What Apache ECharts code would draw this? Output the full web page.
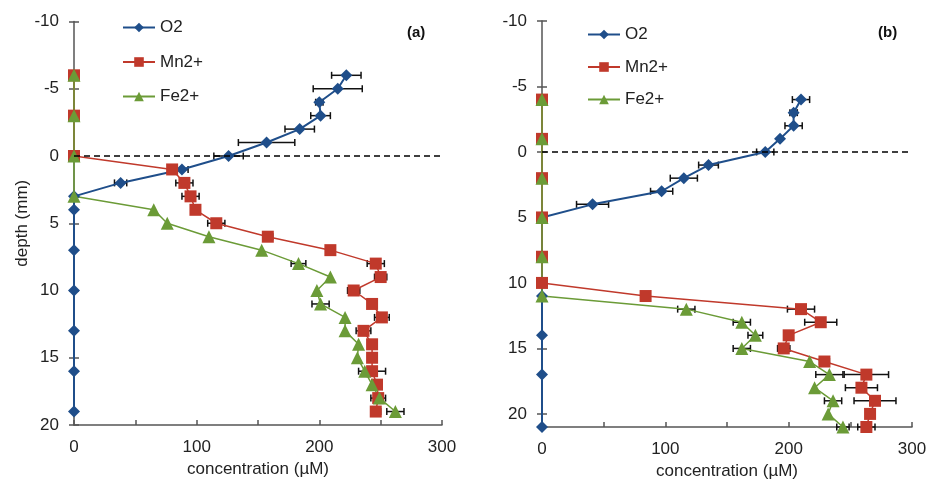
<!DOCTYPE html>
<html>
<head>
<meta charset="utf-8">
<title>depth profiles</title>
<script src="https://cdn.jsdelivr.net/npm/echarts@6/dist/echarts.min.js"></script>
<style>
  html, body { margin: 0; padding: 0; background: #fff; }
  #main { width: 931px; height: 489px; }
</style>
</head>
<body>
<div id="main"></div>
<script>
// ---- panel (a) ----
var depthO2A = [-6, -5, -4, -3, -2, -1, 0, 1, 2, 3, 4, 7, 10, 13, 16, 19];
var o2A      = [222, 215, 200, 201, 184, 157, 126, 88, 38, 0, 0, 0, 0, 0, 0, 0];
var errO2A   = [12, 20, 3, 8, 12, 23, 12, 5, 5, 0, 0, 0, 0, 0, 0, 0];

var depthMnA = [-6, -3, 0, 1, 2, 3, 4, 5, 6, 7, 8, 9, 10, 11, 12, 13, 14, 15, 16, 17, 18, 19];
var mnA      = [0, 0, 0, 80, 90, 95, 99, 116, 158, 209, 246, 250, 228, 243, 251, 236, 243, 243, 243, 247, 248, 246];
var errMnA   = [0, 0, 0, 0, 7, 7, 0, 7, 4, 0, 7, 5, 5, 0, 6, 6, 0, 0, 11, 4, 6, 4];

var depthFeA = [-6, -3, 0, 3, 4, 5, 6, 7, 8, 9, 10, 11, 12, 13, 14, 15, 16, 17, 18, 19];
var feA      = [0, 0, 0, 0, 65, 76, 110, 153, 183, 209, 198, 201, 221, 221, 232, 231, 237, 243, 249, 262];
var errFeA   = [0, 0, 0, 0, 0, 0, 0, 0, 6, 0, 0, 7, 0, 0, 0, 0, 0, 0, 0, 7];

// ---- panel (b) ----
var depthO2B = [-4, -3, -2, -1, 0, 1, 2, 3, 4, 5, 8, 11, 14, 17, 21];
var o2B      = [210, 204, 204, 193, 181, 135, 115, 97, 41, 0, 0, 0, 0, 0, 0];
var errO2B   = [7, 3, 7, 0, 7, 8, 11, 9, 13, 0, 0, 0, 0, 0, 0];

var depthMnB = [-4, -1, 2, 5, 8, 10, 11, 12, 13, 14, 15, 16, 17, 18, 19, 20, 21];
var mnB      = [0, 0, 0, 0, 0, 0, 84, 210, 226, 200, 196, 229, 263, 259, 270, 266, 263];
var errMnB   = [0, 0, 0, 0, 0, 0, 3, 11, 13, 0, 5, 4, 18, 13, 17, 0, 7];

var depthFeB = [-4, -1, 2, 5, 8, 11, 12, 13, 14, 15, 16, 17, 18, 19, 20, 21];
var feB      = [0, 0, 0, 0, 0, 0, 117, 162, 173, 162, 217, 233, 221, 236, 232, 244];
var errFeB   = [0, 0, 0, 0, 0, 0, 7, 7, 6, 7, 0, 11, 0, 7, 0, 5];

var xTicks = [0, 100, 200, 300];

var C_O2 = '#1f4e8a', C_MN = '#c0392b', C_FE = '#6b9b37';
var FONT = 'Liberation Sans, Arial, sans-serif';

function pairs(xs, ys) {
  return xs.map(function (x, i) { return [x, ys[i]]; });
}
function triples(xs, ys, es) {
  return xs.map(function (x, i) { return [x, ys[i], es[i]]; });
}

// horizontal error bar with caps
function renderErr(params, api) {
  var x = api.value(0), y = api.value(1), e = api.value(2);
  if (!e) return null;
  var a = api.coord([x - e, y]), b = api.coord([x + e, y]);
  var h = 3.5;
  var st = { stroke: '#111', lineWidth: 1.5 };
  return {
    type: 'group',
    children: [
      { type: 'line', shape: { x1: a[0], y1: a[1], x2: b[0], y2: b[1] }, style: st },
      { type: 'line', shape: { x1: a[0], y1: a[1] - h, x2: a[0], y2: a[1] + h }, style: st },
      { type: 'line', shape: { x1: b[0], y1: b[1] - h, x2: b[0], y2: b[1] + h }, style: st }
    ]
  };
}

function lineSeries(name, color, symbol, size, width, vals, depths, gi, extra) {
  var s = {
    name: name,
    type: 'line',
    xAxisIndex: gi,
    yAxisIndex: gi,
    data: pairs(vals, depths),
    symbol: symbol,
    symbolSize: size,
    showSymbol: true,
    color: color,
    lineStyle: { color: color, width: width },
    itemStyle: { color: color },
    z: 3,
    animation: false
  };
  for (var k in extra) s[k] = extra[k];
  return s;
}

function errSeries(vals, depths, errs, gi) {
  return {
    type: 'custom',
    xAxisIndex: gi,
    yAxisIndex: gi,
    renderItem: renderErr,
    encode: { x: 0, y: 1 },
    data: triples(vals, depths, errs),
    z: 2,
    silent: true,
    animation: false
  };
}

var zeroLine = {
  markLine: {
    silent: true,
    symbol: 'none',
    label: { show: false },
    lineStyle: { color: '#000', type: [6, 4], width: 1.6 },
    data: [{ yAxis: 0 }],
    animation: false
  }
};

function xAxisFor(gi) {
  return {
    gridIndex: gi,
    type: 'value',
    min: 0, max: 300, interval: 50,
    name: 'concentration (\u00b5M)',
    nameLocation: 'middle',
    nameGap: 35,
    nameTextStyle: { fontSize: 17, color: '#222', fontFamily: FONT },
    axisLine: { onZero: false, lineStyle: { color: '#555', width: 1.5 } },
    axisTick: { inside: true, length: 5, lineStyle: { color: '#555', width: 1.5 } },
    axisLabel: {
      fontSize: 17, color: '#222', fontFamily: FONT, margin: 14,
      formatter: function (v) { return xTicks.indexOf(v) >= 0 ? String(v) : ''; }
    },
    splitLine: { show: false }
  };
}

function yAxisFor(gi, max, withName, inner) {
  return {
    gridIndex: gi,
    type: 'value',
    inverse: true,
    position: 'left',
    min: -10, max: max, interval: 5,
    name: withName ? 'depth (mm)' : '',
    nameLocation: 'middle',
    nameGap: 40,
    nameTextStyle: { fontSize: 17, color: '#222', fontFamily: FONT },
    axisLine: { show: !inner, onZero: false, lineStyle: { color: '#555', width: 1.5 } },
    axisTick: { inside: inner, length: 5, lineStyle: { color: '#555', width: 1.5 } },
    axisLabel: {
      show: !inner,
      fontSize: 17, color: '#222', fontFamily: FONT, margin: 15,
      formatter: function (v) { return v % 5 === 0 ? String(v) : ''; }
    },
    splitLine: { show: false }
  };
}

function legendFor(left, top, gap) {
  return {
    orient: 'vertical',
    left: left, top: top,
    itemGap: gap,
    itemWidth: 32, itemHeight: 12,
    textStyle: { fontSize: 17, color: '#222', fontFamily: FONT },
    data: ['O2', 'Mn2+', 'Fe2+'],
    selectedMode: false
  };
}

var chart = echarts.init(document.getElementById('main'));
chart.setOption({
  backgroundColor: '#fff',
  animation: false,
  title: [
    { text: '(a)', left: 402, top: 20, textStyle: { fontSize: 15, fontWeight: 'bold', color: '#111', fontFamily: FONT } },
    { text: '(b)', left: 873, top: 20, textStyle: { fontSize: 15, fontWeight: 'bold', color: '#111', fontFamily: FONT } }
  ],
  legend: [legendFor(117, 14, 17.5), legendFor(582, 21, 15.5)],
  grid: [
    { left: 74, top: 21.5, width: 368, height: 403.5 },
    { left: 542, top: 21, width: 370, height: 406 }
  ],
  xAxis: [xAxisFor(0), xAxisFor(1)],
  yAxis: [
    yAxisFor(0, 20, true, false),
    yAxisFor(1, 21, false, false),
    yAxisFor(0, 20, false, true),
    yAxisFor(1, 21, false, true)
  ],
  series: [
    errSeries(o2A, depthO2A, errO2A, 0),
    errSeries(mnA, depthMnA, errMnA, 0),
    errSeries(feA, depthFeA, errFeA, 0),
    lineSeries('O2', C_O2, 'diamond', 12, 2, o2A, depthO2A, 0, zeroLine),
    lineSeries('Mn2+', C_MN, 'rect', 12, 1.5, mnA, depthMnA, 0, {}),
    lineSeries('Fe2+', C_FE, 'triangle', 13, 1.5, feA, depthFeA, 0, {}),

    errSeries(o2B, depthO2B, errO2B, 1),
    errSeries(mnB, depthMnB, errMnB, 1),
    errSeries(feB, depthFeB, errFeB, 1),
    lineSeries('O2', C_O2, 'diamond', 12, 2, o2B, depthO2B, 1, zeroLine),
    lineSeries('Mn2+', C_MN, 'rect', 12, 1.5, mnB, depthMnB, 1, {}),
    lineSeries('Fe2+', C_FE, 'triangle', 13, 1.5, feB, depthFeB, 1, {})
  ]
});
</script>
</body>
</html>
